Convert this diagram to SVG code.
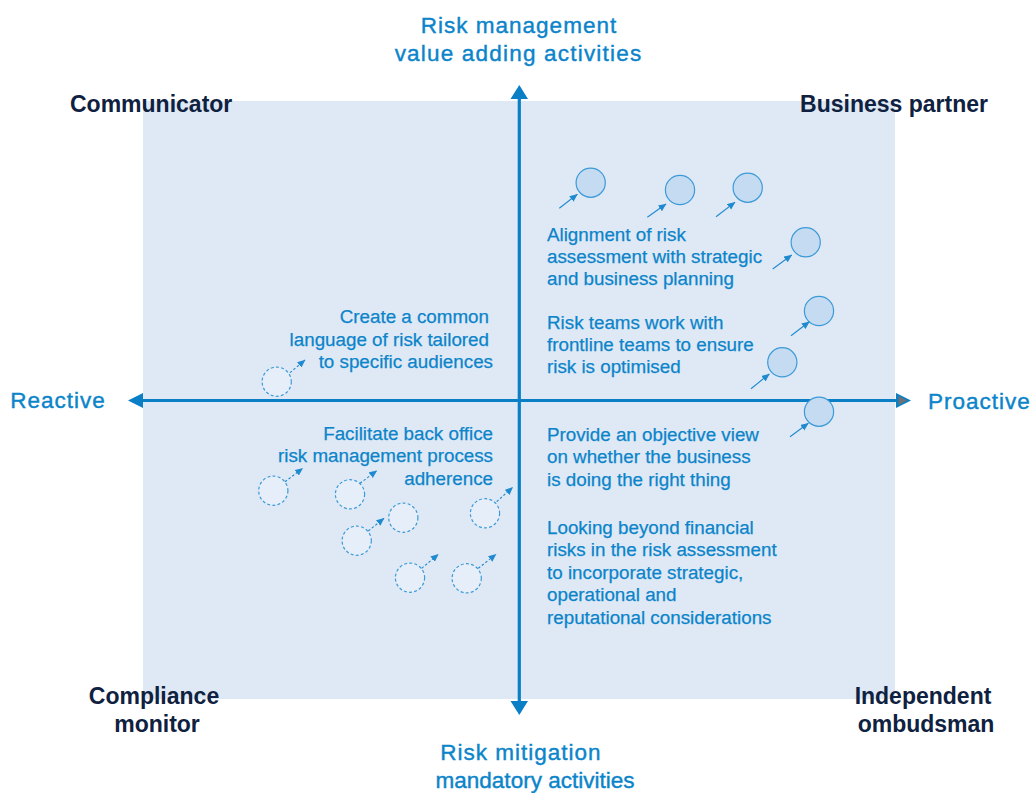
<svg xmlns="http://www.w3.org/2000/svg" width="1035" height="793" viewBox="0 0 1035 793">
  <defs>
    <style>
      .lbl { font-family: "Liberation Sans", Arial, sans-serif; fill: #0b84ca; stroke: #0b84ca; stroke-width: 0.25; }
      .axis-lbl { font-size: 22.5px; letter-spacing: 1px; stroke-width: 0.4; }
      .corner { font-family: "Liberation Sans", Arial, sans-serif; font-size: 23px; font-weight: bold; fill: #0f2140; }
      .body { font-size: 18.8px; }
      .axis { stroke: #0a7fc6; stroke-width: 3.2; fill: none; }
      .solid { fill: #c4dbf1; stroke: #3c9ad8; stroke-width: 1.2; }
      .dash { fill: #e6eff9; stroke: #3c9ad8; stroke-width: 1.2; stroke-dasharray: 3 2.2; }
      .ptr { stroke: #1f8ad0; stroke-width: 1.1; fill: none; marker-end: url(#tip); }
      .ptr-d { stroke: #1f8ad0; stroke-width: 1.1; fill: none; stroke-dasharray: 2.5 2; marker-end: url(#tip); }
    </style>
    <marker id="tip" markerUnits="userSpaceOnUse" markerWidth="9" markerHeight="8" refX="7.5" refY="3.5" orient="auto">
      <path d="M0,0 L8,3.5 L0,7 z" fill="#1f8ad0"/>
    </marker>
  </defs>

  <!-- quadrant field -->
  <rect id="field" x="143" y="101" width="752" height="598" fill="#dfe9f5"/>

  <!-- axes -->
  <g id="connectors">
    <line class="axis" x1="519.3" y1="98" x2="519.3" y2="702"/>
    <polygon points="519.3,85 510.5,99 528,99" fill="#0a7fc6"/>
    <polygon points="519.3,715 510.5,701 528,701" fill="#0a7fc6"/>
    <line class="axis" x1="142" y1="400.5" x2="897" y2="400.5"/>
    <polygon points="128,400.5 143,393 143,408" fill="#0a7fc6"/>
    <polygon points="911,400.5 896,393 896,408" fill="#0a7fc6"/>
    <polygon points="907,400.5 898.5,396 898.5,405" fill="#6f7174"/>
  </g>

  <!-- axis labels -->
  <g id="label-top">
    <text class="lbl axis-lbl" x="519" y="32.7" text-anchor="middle">Risk management</text>
    <text class="lbl axis-lbl" x="518.5" y="60.5" text-anchor="middle" style="letter-spacing:1.2px">value adding activities</text>
  </g>
  <g id="label-bottom">
    <text class="lbl axis-lbl" x="521" y="760" text-anchor="middle">Risk mitigation</text>
    <text class="lbl axis-lbl" x="535" y="788" text-anchor="middle" style="letter-spacing:0">mandatory activities</text>
  </g>
  <g id="label-left">
    <text class="lbl axis-lbl" x="58" y="408" text-anchor="middle">Reactive</text>
  </g>
  <g id="label-right">
    <text class="lbl axis-lbl" x="979.5" y="408.5" text-anchor="middle">Proactive</text>
  </g>

  <!-- quadrant roles -->
  <g id="communicator"><text class="corner" x="70" y="111.5">Communicator</text></g>
  <g id="business-partner"><text class="corner" x="988" y="111.5" text-anchor="end">Business partner</text></g>
  <g id="compliance-monitor">
    <text class="corner" x="154" y="704" text-anchor="middle">Compliance</text>
    <text class="corner" x="157" y="732" text-anchor="middle">monitor</text>
  </g>
  <g id="independent-ombudsman">
    <text class="corner" x="923" y="704" text-anchor="middle">Independent</text>
    <text class="corner" x="926" y="732" text-anchor="middle">ombudsman</text>
  </g>

  <!-- proactive activities -->
  <g id="alignment">
    <text class="lbl body" x="547" y="240.7">Alignment of risk</text>
    <text class="lbl body" x="547" y="262.7">assessment with strategic</text>
    <text class="lbl body" x="547" y="284.7">and business planning</text>
  </g>
  <g id="frontline">
    <text class="lbl body" x="547" y="329">Risk teams work with</text>
    <text class="lbl body" x="547" y="351">frontline teams to ensure</text>
    <text class="lbl body" x="547" y="373">risk is optimised</text>
  </g>
  <g id="objective-view">
    <text class="lbl body" x="547" y="440.5">Provide an objective view</text>
    <text class="lbl body" x="547" y="463">on whether the business</text>
    <text class="lbl body" x="547" y="485.5">is doing the right thing</text>
  </g>
  <g id="beyond-financial">
    <text class="lbl body" x="547" y="533.5">Looking beyond financial</text>
    <text class="lbl body" x="547" y="556">risks in the risk assessment</text>
    <text class="lbl body" x="547" y="578.5">to incorporate strategic,</text>
    <text class="lbl body" x="547" y="601">operational and</text>
    <text class="lbl body" x="547" y="623.5">reputational considerations</text>
  </g>

  <!-- reactive activities -->
  <g id="common-language">
    <text class="lbl body" x="489" y="323.3" text-anchor="end">Create a common</text>
    <text class="lbl body" x="489" y="345.5" text-anchor="end">language of risk tailored</text>
    <text class="lbl body" x="493" y="367.7" text-anchor="end">to specific audiences</text>
  </g>
  <g id="back-office">
    <text class="lbl body" x="493" y="439.5" text-anchor="end">Facilitate back office</text>
    <text class="lbl body" x="493" y="462" text-anchor="end">risk management process</text>
    <text class="lbl body" x="493" y="484.5" text-anchor="end">adherence</text>
  </g>

  <!-- movement markers: current position moving towards the business partner role -->
  <g id="markers-dashed">
    <line class="ptr-d" x1="290" y1="372.7" x2="305" y2="360"/>
    <circle class="dash" cx="276.7" cy="381.7" r="14.6"/>
    <line class="ptr-d" x1="285" y1="481.7" x2="302.7" y2="468.3"/>
    <circle class="dash" cx="273.3" cy="490.7" r="14.6"/>
    <line class="ptr-d" x1="360" y1="483.3" x2="376.7" y2="470.7"/>
    <circle class="dash" cx="350" cy="494.3" r="14.6"/>
    <circle class="dash" cx="403.3" cy="517.7" r="14.6"/>
    <line class="ptr-d" x1="368.3" y1="531" x2="384" y2="518.3"/>
    <circle class="dash" cx="356.7" cy="540.7" r="14.6"/>
    <line class="ptr-d" x1="496.7" y1="501.7" x2="512.7" y2="487.3"/>
    <circle class="dash" cx="485" cy="513.3" r="14.6"/>
    <line class="ptr-d" x1="421.7" y1="568.3" x2="438.3" y2="554.3"/>
    <circle class="dash" cx="410" cy="577.7" r="14.6"/>
    <line class="ptr-d" x1="478.3" y1="568.3" x2="496" y2="554.3"/>
    <circle class="dash" cx="466.7" cy="578.3" r="14.6"/>
  </g>

  <g id="markers-solid">
    <circle class="solid" cx="590.7" cy="182.7" r="14.6"/>
    <line class="ptr" x1="559.3" y1="208.3" x2="577.3" y2="194.3"/>
    <circle class="solid" cx="680" cy="190" r="14.6"/>
    <line class="ptr" x1="647.3" y1="217.3" x2="666" y2="204"/>
    <circle class="solid" cx="747.7" cy="187.7" r="14.6"/>
    <line class="ptr" x1="716" y1="216.7" x2="735" y2="202.3"/>
    <circle class="solid" cx="805.7" cy="242.3" r="14.6"/>
    <line class="ptr" x1="772.7" y1="269" x2="791.7" y2="255"/>
    <circle class="solid" cx="819" cy="311" r="14.6"/>
    <line class="ptr" x1="791" y1="335.7" x2="809.3" y2="321.7"/>
    <circle class="solid" cx="782.3" cy="362.3" r="14.6"/>
    <line class="ptr" x1="751" y1="388.7" x2="769.3" y2="374"/>
    <circle class="solid" cx="819" cy="411.7" r="14.6"/>
    <line class="ptr" x1="790" y1="436.7" x2="808.3" y2="423.3"/>
  </g>
</svg>
